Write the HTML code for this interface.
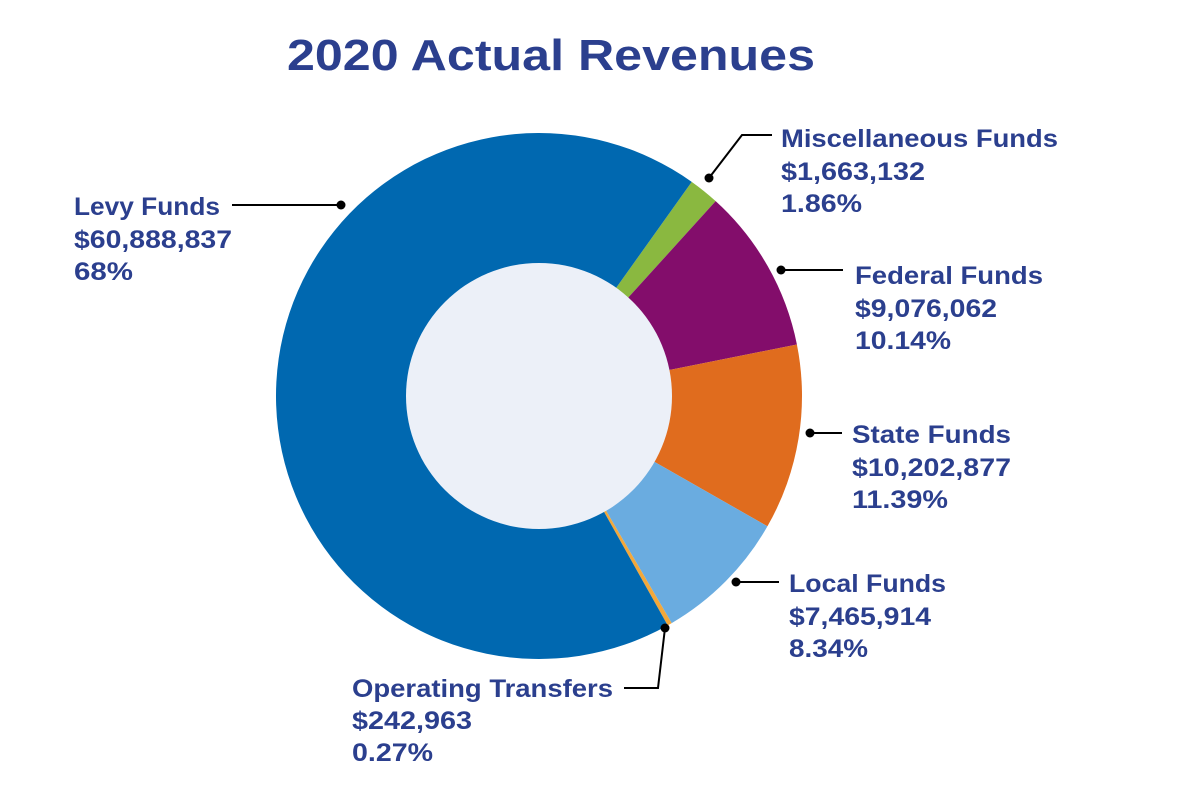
<!DOCTYPE html>
<html><head><meta charset="utf-8"><style>
html,body{margin:0;padding:0;background:#fff;}
svg{display:block;}
text{font-family:"Liberation Sans",sans-serif;fill:#2b3f8e;font-weight:bold;}
</style></head><body>
<svg id="s" width="1179" height="800" viewBox="0 0 1179 800">
<text x="287" y="70" font-size="44" textLength="528" lengthAdjust="spacingAndGlyphs">2020 Actual Revenues</text>
<g id="pie"></g>
<circle cx="539" cy="396" r="133" fill="#ecf0f8"/>
<g stroke="#000" stroke-width="2" fill="none">
<polyline points="232,205 341,205"/>
<polyline points="709,178 742,135 772,135"/>
<polyline points="781,270 843,270"/>
<polyline points="810,433 842,433"/>
<polyline points="736,582 779,582"/>
<polyline points="665,628 658,688 624,688"/>
</g>
<g fill="#000">
<circle cx="341" cy="205" r="4.5"/><circle cx="709" cy="178" r="4.5"/><circle cx="781" cy="270" r="4.5"/>
<circle cx="810" cy="433" r="4.5"/><circle cx="736" cy="582" r="4.5"/><circle cx="665" cy="628" r="4.5"/>
</g>
<g font-size="25" lengthAdjust="spacingAndGlyphs">
<text x="74" y="215" textLength="146" lengthAdjust="spacingAndGlyphs">Levy Funds</text><text x="74" y="248" textLength="158" lengthAdjust="spacingAndGlyphs">$60,888,837</text><text x="74" y="280" textLength="59" lengthAdjust="spacingAndGlyphs">68%</text>
<text x="781" y="147" textLength="277" lengthAdjust="spacingAndGlyphs">Miscellaneous Funds</text><text x="781" y="180" textLength="144" lengthAdjust="spacingAndGlyphs">$1,663,132</text><text x="781" y="212" textLength="81" lengthAdjust="spacingAndGlyphs">1.86%</text>
<text x="855" y="284" textLength="188" lengthAdjust="spacingAndGlyphs">Federal Funds</text><text x="855" y="317" textLength="142" lengthAdjust="spacingAndGlyphs">$9,076,062</text><text x="855" y="349" textLength="96" lengthAdjust="spacingAndGlyphs">10.14%</text>
<text x="852" y="443" textLength="159" lengthAdjust="spacingAndGlyphs">State Funds</text><text x="852" y="476" textLength="159" lengthAdjust="spacingAndGlyphs">$10,202,877</text><text x="852" y="508" textLength="96" lengthAdjust="spacingAndGlyphs">11.39%</text>
<text x="789" y="592" textLength="157" lengthAdjust="spacingAndGlyphs">Local Funds</text><text x="789" y="625" textLength="142" lengthAdjust="spacingAndGlyphs">$7,465,914</text><text x="789" y="657" textLength="79" lengthAdjust="spacingAndGlyphs">8.34%</text>
<text x="352" y="697" textLength="261" lengthAdjust="spacingAndGlyphs">Operating Transfers</text><text x="352" y="729" textLength="120" lengthAdjust="spacingAndGlyphs">$242,963</text><text x="352" y="761" textLength="81" lengthAdjust="spacingAndGlyphs">0.27%</text>
</g>
</svg>
<script>
var cx=539,cy=396,R=263;
var sl=[[35.5,42.2,"#8ab840"],[42.2,78.7,"#830d6b"],[78.7,119.7,"#e06c1e"],[119.7,149.7,"#6aace0"],[149.7,150.7,"#f3a83a"],[150.7,395.5,"#0068b0"]];
var g=document.getElementById("pie"),h="";
function p(a){var r=a*Math.PI/180;return (cx+R*Math.sin(r)).toFixed(2)+","+(cy-R*Math.cos(r)).toFixed(2);}
sl.forEach(function(s){var large=(s[1]-s[0])>180?1:0;
h+='<path d="M'+cx+','+cy+' L'+p(s[0])+' A'+R+','+R+' 0 '+large+' 1 '+p(s[1])+' Z" fill="'+s[2]+'"/>';});
g.innerHTML=h;
</script>
</body></html>
